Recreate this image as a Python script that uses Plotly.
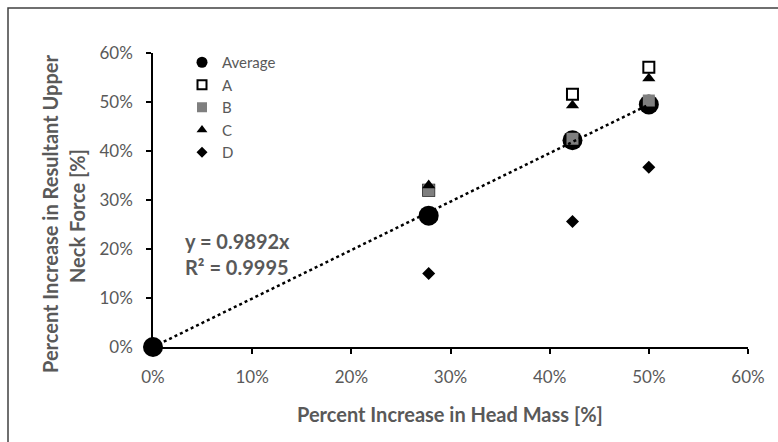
import numpy as np
import plotly.graph_objects as go

# Data
head_mass = [0.0, 0.278, 0.423, 0.50]
average = [0.0, 0.268, 0.422, 0.495]
x_sub = [0.278, 0.423, 0.50]
series_A = [0.32, 0.516, 0.571]
series_B = [0.32, 0.425, 0.503]
series_C = [0.33, 0.493, 0.548]
series_D = [0.15, 0.256, 0.367]
slope = 0.9892
r2 = 0.9995
tick_vals = [0, 0.1, 0.2, 0.3, 0.4, 0.5, 0.6]
tick_text = ["0%", "10%", "20%", "30%", "40%", "50%", "60%"]
x_title = "Percent Increase in Head Mass [%]"
y_title_1 = "Percent Increase in Resultant Upper"
y_title_2 = "Neck Force [%]"

FONT = "Lato, 'Open Sans', sans-serif"
GREY = "#595959"

# plot area in pixels
L, R, T, B = 153, 748, 53, 347
W, H = R - L, B - T


def px(xp):
    return (xp - L) / W


def py(yp):
    return (B - yp) / H


series = [
    ("Average", head_mass, average, dict(symbol="circle", size=20, color="black"),
     dict(symbol="circle", size=11, color="black")),
    ("A", x_sub, series_A, dict(symbol="square", size=11, color="white",
                                line=dict(color="black", width=2)),
     dict(symbol="square", size=9, color="white", line=dict(color="black", width=2))),
    ("B", x_sub, series_B, dict(symbol="square", size=12, color="#7f7f7f"),
     dict(symbol="square", size=10, color="#7f7f7f")),
    ("C", x_sub, series_C, dict(symbol="triangle-up", size=11.5, color="black"),
     dict(symbol="triangle-up", size=9.5, color="black")),
    ("D", x_sub, series_D, dict(symbol="diamond", size=10, color="black"),
     dict(symbol="diamond", size=8.5, color="black")),
]

fig = go.Figure()
for name, xs, ys, mk, _ in series:
    fig.add_trace(go.Scatter(x=xs, y=ys, mode="markers", name=name, marker=mk,
                             showlegend=False, cliponaxis=False))

trend_x = np.array([min(head_mass), max(head_mass)])
fig.add_trace(go.Scatter(x=trend_x, y=slope * trend_x, mode="lines",
                         line=dict(color="black", width=2.5, dash="dot"),
                         showlegend=False, hoverinfo="skip", cliponaxis=False))

# legend-only entries (smaller symbols, as in the reference legend)
for name, _, _, _, lmk in series:
    fig.add_trace(go.Scatter(x=[None], y=[None], mode="markers", name=name,
                             marker=lmk, showlegend=True))

fig.add_annotation(x=0.0303, y=0.1888, xref="x", yref="y",
                   text=f"y = {slope}x<br>R² = {r2}", showarrow=False,
                   xanchor="left", yanchor="middle", align="left",
                   font=dict(family=FONT, size=20, color=GREY, weight="bold"))

title_font = dict(family=FONT, size=20, color=GREY, weight="bold")
fig.add_annotation(x=px(450), y=py(414), xref="paper", yref="paper", text=x_title,
                   showarrow=False, xanchor="center", yanchor="middle", font=title_font)
fig.add_annotation(x=px(50), y=py(214), xref="paper", yref="paper", text=y_title_1,
                   showarrow=False, xanchor="center", yanchor="middle", textangle=-90,
                   font=title_font)
fig.add_annotation(x=px(77), y=py(216), xref="paper", yref="paper", text=y_title_2,
                   showarrow=False, xanchor="center", yanchor="middle", textangle=-90,
                   font=title_font)

# outer chart frame
fig.add_shape(type="rect", xref="paper", yref="paper",
              x0=px(8), x1=1.2, y0=-0.5, y1=py(8),
              line=dict(color="#404040", width=1.5), layer="below")

axis_common = dict(range=[0, 0.6], tickvals=tick_vals, ticktext=tick_text,
                   showgrid=False, zeroline=False, showline=True,
                   linecolor="black", linewidth=1.5, ticks="outside",
                   ticklen=5, tickcolor="black", tickwidth=1.5,
                   tickfont=dict(size=17, color=GREY))

fig.update_layout(
    width=778, height=442,
    margin=dict(l=L, r=778 - R, t=T, b=442 - B),
    plot_bgcolor="white", paper_bgcolor="white",
    font=dict(family=FONT, color=GREY, size=17),
    legend=dict(x=px(182), y=py(46), xanchor="left", yanchor="top",
                bgcolor="rgba(0,0,0,0)", font=dict(size=15, color=GREY),
                itemsizing="trace", tracegroupgap=0),
    xaxis=dict(**axis_common, ticklabelstandoff=9),
    yaxis=dict(**axis_common, ticklabelstandoff=10),
)

fig.write_html("out.html")
